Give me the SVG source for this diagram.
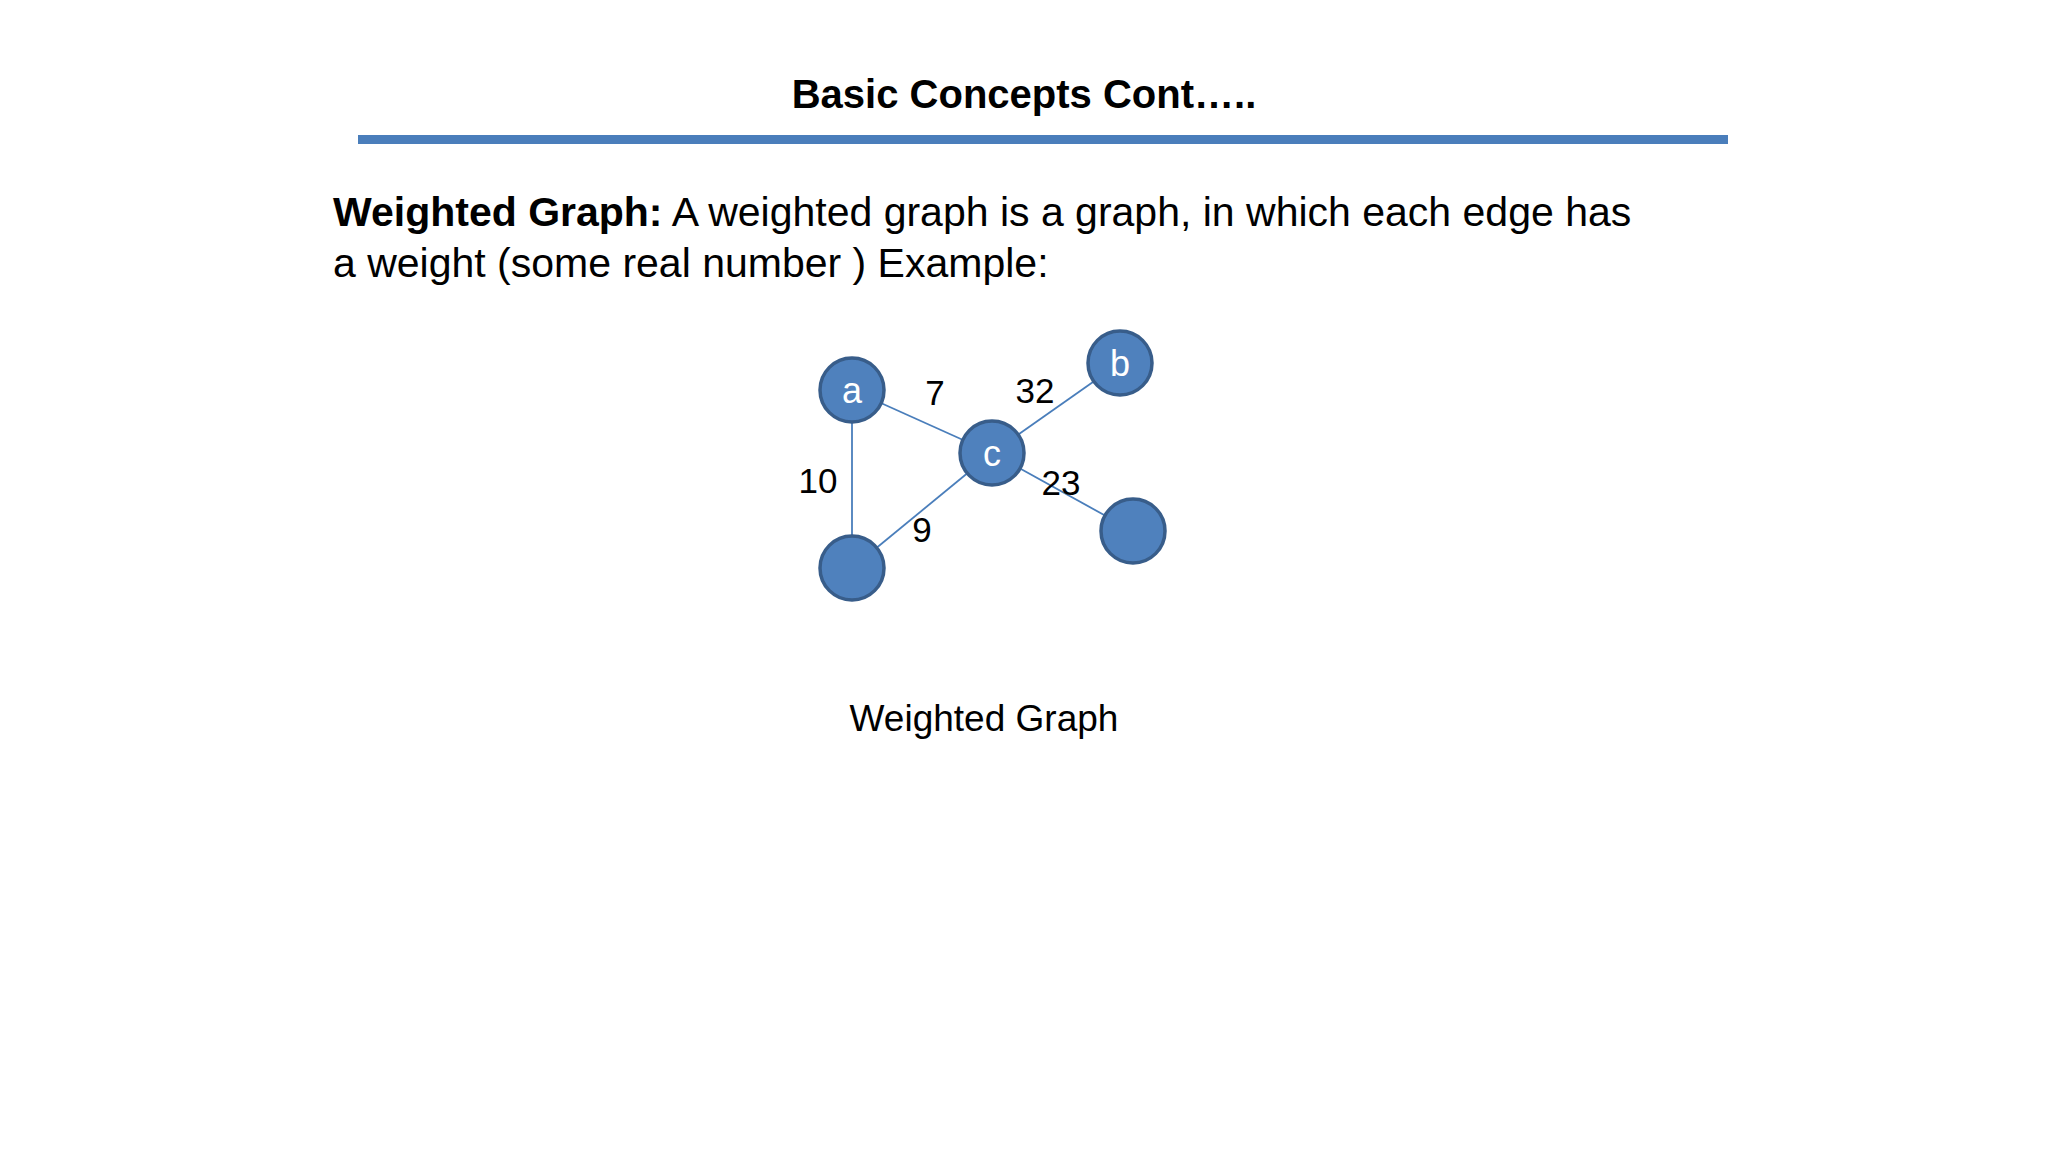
<svg xmlns="http://www.w3.org/2000/svg" width="2048" height="1152" viewBox="0 0 2048 1152">
<style>
text{font-family:"Liberation Sans",Arial,sans-serif;fill:#000}
.n{fill:#4f81bd;stroke:#385d8a;stroke-width:3.5}
.nl{fill:#fff;font-size:36px;text-anchor:middle}
.e{stroke:#4a7ebb;stroke-width:1.8}
.w{font-size:35px;text-anchor:middle}
</style>
<rect width="2048" height="1152" fill="#fff"/>
<text x="1024" y="108" font-size="40" font-weight="bold" text-anchor="middle">Basic Concepts Cont…..</text>
<rect x="358" y="135" width="1370" height="9" fill="#4a7ebb"/>
<text x="333" y="226" font-size="41"><tspan font-weight="bold">Weighted Graph:</tspan> A weighted graph is a graph, in which each edge has</text>
<text x="333" y="277" font-size="41"> a weight (some real number ) Example:</text>
<g id="connectors">
<line class="e" x1="852" y1="390" x2="992" y2="453"/>
<line class="e" x1="992" y1="453" x2="1120" y2="363"/>
<line class="e" x1="852" y1="390" x2="852" y2="568"/>
<line class="e" x1="992" y1="453" x2="852" y2="568"/>
<line class="e" x1="992" y1="453" x2="1133" y2="531"/>
</g>
<g id="node-a"><circle class="n" cx="852" cy="390" r="32"/><text class="nl" x="852" y="403">a</text></g>
<g id="node-c"><circle class="n" cx="992" cy="453" r="32"/><text class="nl" x="992" y="466">c</text></g>
<g id="node-b"><circle class="n" cx="1120" cy="363" r="32"/><text class="nl" x="1120" y="376">b</text></g>
<g id="node-d"><circle class="n" cx="852" cy="568" r="32"/></g>
<g id="node-e"><circle class="n" cx="1133" cy="531" r="32"/></g>
<g id="weights">
<text class="w" x="935" y="405">7</text>
<text class="w" x="1035" y="403">32</text>
<text class="w" x="818" y="493">10</text>
<text class="w" x="922" y="542">9</text>
<text class="w" x="1061" y="495">23</text>
</g>
<text x="984" y="731" font-size="37" text-anchor="middle">Weighted Graph</text>
</svg>
